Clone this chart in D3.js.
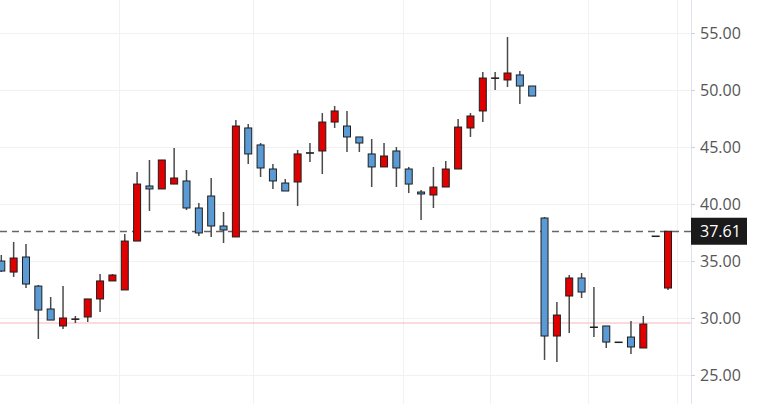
<!DOCTYPE html>
<html>
<head>
<meta charset="utf-8">
<script src="https://cdn.jsdelivr.net/npm/d3@7"></script>
<style>
  html, body { margin: 0; padding: 0; background: #fff; }
  svg { display: block; }
</style>
</head>
<body>
<svg id="chart" width="773" height="404"></svg>
<script>
// ---- data ----
const opens  = [35.00,34.03,35.35,32.80,30.79,29.30,29.90,30.09,31.67,33.25,32.46,36.75,41.58,41.32,41.75,42.02,39.65,40.70,38.07,37.11,46.67,45.18,43.07,41.84,41.93,44.50,44.65,47.19,46.84,45.88,44.39,43.25,44.65,43.07,41.05,40.79,41.49,43.07,46.67,48.16,51.03,50.88,51.32,50.35,38.77,28.42,31.93,33.51,29.21,29.30,27.89,28.33,27.37,37.19,32.63];
const highs  = [35.53,36.67,36.49,32.90,31.84,32.81,30.18,31.67,33.86,33.86,37.37,42.81,43.86,43.86,44.91,42.98,40.09,42.28,39.30,47.37,47.02,45.35,43.51,42.19,44.74,45.35,47.98,48.60,48.16,45.88,45.70,45.35,45.00,43.25,41.23,43.25,43.77,47.46,47.98,51.58,51.58,54.65,51.67,50.35,38.86,31.40,33.77,33.95,32.72,29.30,27.89,29.74,30.18,37.19,37.61];
const lows   = [34.04,33.60,32.63,28.16,29.82,29.04,29.56,29.65,30.53,33.25,32.46,36.75,39.39,41.32,41.75,39.47,37.19,37.11,36.58,37.11,43.51,42.37,41.32,41.14,39.82,43.68,42.63,46.67,44.56,44.56,41.49,43.25,41.49,40.96,38.60,39.65,41.49,43.07,45.88,47.19,50.00,50.26,48.77,49.47,26.32,26.14,28.68,31.75,28.33,27.37,27.89,26.84,27.37,37.19,32.46];
const closes = [34.12,35.26,32.98,30.70,29.82,30.00,29.92,31.67,33.25,33.77,36.75,41.75,41.32,43.86,42.28,39.65,37.46,38.07,37.72,46.84,44.39,43.16,42.02,41.14,44.39,44.45,47.19,48.16,45.88,45.35,43.25,44.21,43.16,41.75,40.88,41.49,43.07,46.75,47.72,51.05,51.06,51.49,50.35,49.47,28.42,30.26,33.51,32.28,29.19,27.89,27.89,27.46,29.47,37.19,37.61];
const yTicks = [25, 30, 35, 40, 45, 50, 55];
const lastPrice = 37.61;
const refLevel = 29.56;
// vertical grid positions, in candle-index units
const xGridTicks = [9.55, 20.4, 32.55, 39.6, 47.5, 54.7];

const candles = opens.map((o, i) => ({ i, o, h: highs[i], l: lows[i], c: closes[i] }));

// ---- layout ----
const W = 773, H = 404;
const axisX = 691;
const svg = d3.select("#chart");

const x = d3.scaleLinear().domain([0, candles.length - 1]).range([1.3, 668]);
const y = d3.scaleLinear().domain([25, 55]).range([375, 33]);

const UP = "#e00000", DOWN = "#5b9bd5";
const FONT = "'Open Sans', 'Noto Sans', sans-serif";

// grid
svg.append("g").selectAll("line").data(yTicks).join("line")
  .attr("x1", 0).attr("x2", axisX)
  .attr("y1", d => Math.round(y(d)) + 0.5).attr("y2", d => Math.round(y(d)) + 0.5)
  .attr("stroke", "#f1f1f1").attr("stroke-width", 1);
svg.append("g").selectAll("line").data(xGridTicks).join("line")
  .attr("x1", d => Math.round(x(d)) + 0.5).attr("x2", d => Math.round(x(d)) + 0.5)
  .attr("y1", 0).attr("y2", H)
  .attr("stroke", "#f1f1f1").attr("stroke-width", 1);

// reference level (pink)
svg.append("line")
  .attr("x1", 0).attr("x2", axisX)
  .attr("y1", y(refLevel)).attr("y2", y(refLevel))
  .attr("stroke", "#f5b5b5").attr("stroke-width", 1.2);

// last price dashed line
svg.append("line")
  .attr("x1", 0).attr("x2", axisX)
  .attr("y1", Math.round(y(lastPrice)) + 0.5).attr("y2", Math.round(y(lastPrice)) + 0.5)
  .attr("stroke", "#666").attr("stroke-width", 1.5)
  .attr("stroke-dasharray", "7,5");

// candles
const bw = 7;
const g = svg.append("g");
g.selectAll("line.wick").data(candles).join("line")
  .attr("class", "wick")
  .attr("x1", d => x(d.i)).attr("x2", d => x(d.i))
  .attr("y1", d => y(d.h)).attr("y2", d => y(d.l))
  .attr("stroke", "#4a4a4a").attr("stroke-width", 1.5);
g.selectAll("rect.body").data(candles).join("rect")
  .attr("class", "body")
  .attr("x", d => x(d.i) - bw / 2)
  .attr("width", bw)
  .attr("y", d => y(Math.max(d.o, d.c)))
  .attr("height", d => Math.max(0.5, Math.abs(y(d.o) - y(d.c))))
  .attr("fill", d => d.c >= d.o ? UP : DOWN)
  .attr("stroke", "#1e1e1e").attr("stroke-width", 1);

// right axis
svg.append("line")
  .attr("x1", axisX + 0.5).attr("x2", axisX + 0.5)
  .attr("y1", 0).attr("y2", H)
  .attr("stroke", "#e0e3eb").attr("stroke-width", 1);

const axis = d3.axisRight(y).tickValues(yTicks).tickFormat(d3.format(".2f"))
  .tickSize(4).tickPadding(5);
const ag = svg.append("g").attr("transform", `translate(${axisX},0)`).call(axis);
ag.select(".domain").remove();
ag.selectAll(".tick line").attr("stroke", "#d0d3da");
ag.selectAll(".tick text")
  .attr("fill", "#555").style("font-family", FONT).style("font-size", "16px");

// last price label
const lp = svg.append("g").attr("transform", `translate(${axisX},${y(lastPrice)})`);
lp.append("rect").attr("x", 0).attr("y", -13.5).attr("width", 56).attr("height", 27).attr("fill", "#1a1a1a");
lp.append("text").attr("x", 9).attr("y", 0).attr("dy", "0.34em")
  .attr("fill", "#fff").style("font-family", FONT).style("font-size", "16px")
  .text(d3.format(".2f")(lastPrice));
</script>
</body>
</html>
